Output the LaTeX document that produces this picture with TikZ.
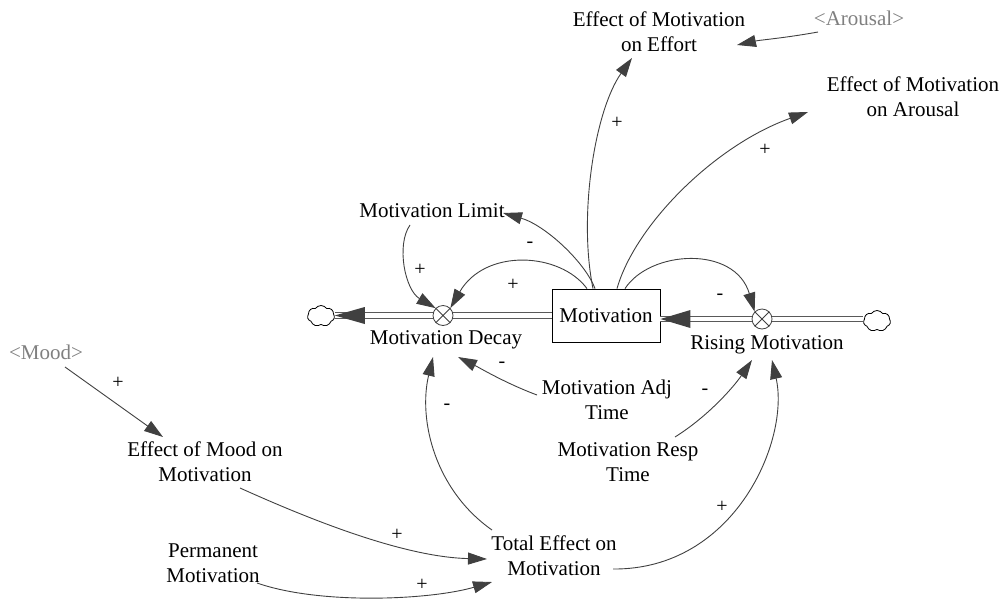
\documentclass[tikz,border=0pt]{standalone}
\usepackage{fontspec}
\setmainfont{Liberation Serif}
\usetikzlibrary{arrows.meta,shapes.symbols,calc}
\begin{document}
\begin{tikzpicture}[x=1pt,y=-1pt,
  lbl/.style={font=\fontsize{21}{25}\selectfont, align=center, inner sep=2pt},
  shad/.style={lbl, text=black!50},
  sgn/.style={font=\fontsize{20}{20}\selectfont, inner sep=0pt},
  link/.style={draw=black!75, line width=0.9pt, -{Triangle[length=19pt,width=12pt]}},
  pipe/.style={draw=black!65, double=white, double distance=4.5pt, line width=0.9pt},
  pipetip/.style={fill=black!75},
  valve/.style={circle, draw=black!75, fill=white, minimum size=20pt, inner sep=0pt, line width=0.8pt},
  cloudy/.style={cloud, cloud puffs=7, cloud puff arc=110, draw=black, line width=0.8pt, minimum width=27pt, minimum height=21pt, inner sep=0pt}
]
\useasboundingbox (0,0) rectangle (1008,605);

% stock
\node[lbl, draw=black, line width=0.8pt, minimum width=108pt, minimum height=53pt] (mot) at (606,315.5) {Motivation};
\coordinate (vd) at (443,315.5);
\coordinate (vr) at (762,319);
\node[cloudy] (cl) at (321,316) {};
\node[cloudy] (cr) at (877,321) {};

% pipes
\draw[pipe] (vd -| cl.east) -- (vd -| mot.west);
\draw[pipe] (vr -| cr.west) -- (vr -| mot.east);
\fill[pipetip] (vd -| cl.east) -- ++(30,-8.5) -- ++(0,17) -- cycle;
\fill[pipetip] (vr -| mot.east) -- ++(30,-9) -- ++(0,18) -- cycle;

% valves
\node[valve] (vdec) at (vd) {};
\draw[black!75, line width=0.8pt] (vdec.45) -- (vdec.225) (vdec.135) -- (vdec.315);
\node[valve] (vrise) at (vr) {};
\draw[black!75, line width=0.8pt] (vrise.45) -- (vrise.225) (vrise.135) -- (vrise.315);

% labels
\node[lbl] (ldec) at (446,340) {Motivation Decay};
\node[lbl] (lrise) at (767,345) {Rising Motivation};
\node[lbl] (lim) at (432,211) {Motivation Limit};
\node[lbl] (eff) at (659,32) {Effect of Motivation\\on Effort};
\node[shad] (aro) at (859,18) {<Arousal>};
\node[lbl] (efa) at (913,97) {Effect of Motivation\\on Arousal};
\node[shad] (mood) at (46,352) {<Mood>};
\node[lbl] (efm) at (205,462) {Effect of Mood on\\Motivation};
\node[lbl] (perm) at (213,563) {Permanent\\Motivation};
\node[lbl] (tot) at (554,556) {Total Effect on\\Motivation};
\node[lbl] (adj) at (607,400) {Motivation Adj\\Time};
\node[lbl] (resp) at (628,462) {Motivation Resp\\Time};

% links
\draw[link] ($(mot.north)+(-11,0)$) .. controls (585,262) and (545,225) .. ($(lim)+(71,2)$);
\draw[link] ($(mot.north)+(-19,0)$) .. controls (560,252) and (485,248) .. (vdec.45);
\draw[link] ($(lim)+(-22,14)$) .. controls (396,245) and (405,290) .. (vdec.135);
\draw[link] ($(mot.north)+(-13,0)$) .. controls (578,215) and (595,110) .. ($(eff)+(-27,26)$);
\draw[link] ($(mot.north)+(11,0)$) .. controls (635,225) and (715,145) .. ($(efa)+(-105,15)$);
\draw[link] ($(mot.north)+(19,0)$) .. controls (650,250) and (735,245) .. (vrise.135);
\draw[link] ($(aro)+(-41,14)$) .. controls (785,38) and (760,40) .. ($(eff)+(78,13)$);
\draw[link] ($(mood)+(19,15)$) -- ($(efm)+(-42,-25)$);
\draw[link] ($(efm)+(35,26)$) .. controls (300,515) and (400,557) .. ($(tot)+(-67,3)$);
\draw[link] ($(perm)+(44,20)$) .. controls (320,605) and (430,600) .. ($(tot)+(-62,26)$);
\draw[link] ($(tot)+(-62,-26)$) .. controls (435,490) and (418,420) .. ($(ldec)+(-13,17)$);
\draw[link] ($(tot)+(59,13)$) .. controls (735,570) and (790,440) .. ($(lrise)+(5,15)$);
\draw[link] ($(adj)+(-70,-5)$) .. controls (505,383) and (480,368) .. ($(ldec)+(12,17)$);
\draw[link] ($(resp)+(47,-25)$) .. controls (710,415) and (735,385) .. ($(lrise)+(-15,15)$);

% polarity signs
\node[sgn] (s1) at (530,245) {-};
\node[sgn] (s2) at (513,285) {+};
\node[sgn] (s3) at (420,270) {+};
\node[sgn] (s4) at (617,123) {+};
\node[sgn] (s5) at (765,150) {+};
\node[sgn] (s6) at (720,297) {-};
\node[sgn] (s7) at (118,383) {+};
\node[sgn] (s8) at (397,535) {+};
\node[sgn] (s9) at (422,585) {+};
\node[sgn] (s10) at (447,407) {-};
\node[sgn] (s11) at (722,507) {+};
\node[sgn] (s12) at (502,365) {-};
\node[sgn] (s13) at (705,392) {-};
\end{tikzpicture}
\end{document}
